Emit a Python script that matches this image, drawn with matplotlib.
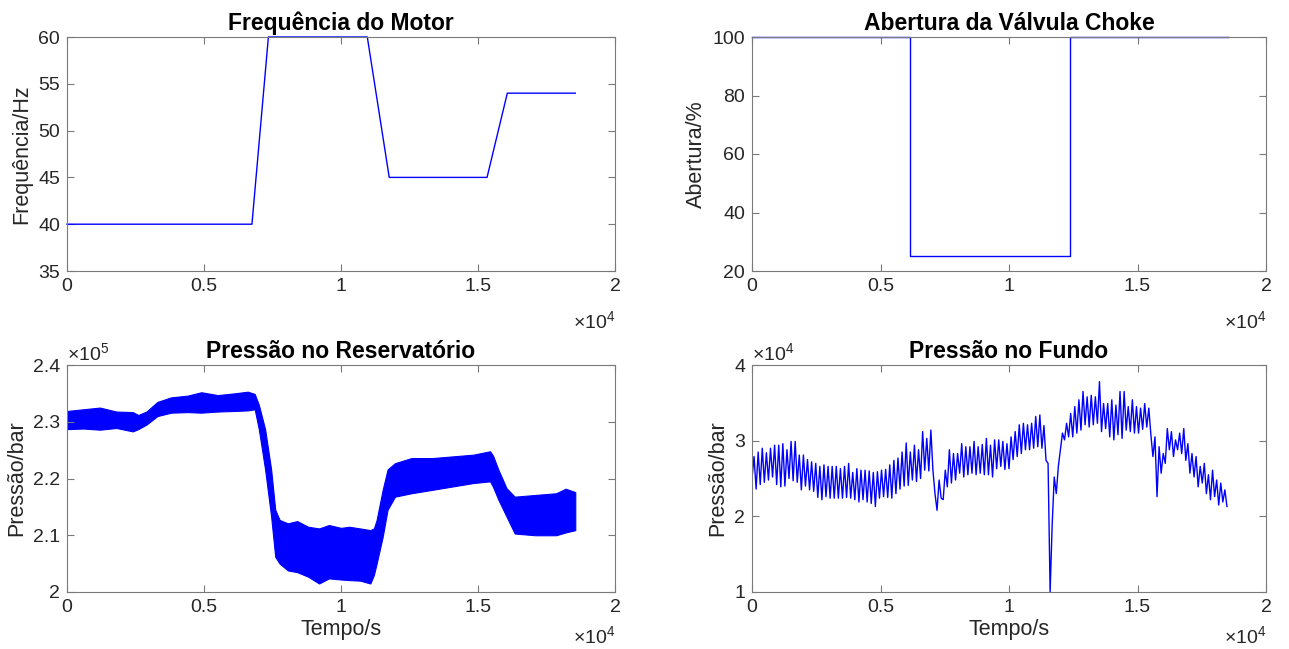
import numpy as np
import matplotlib
matplotlib.use('Agg')
import matplotlib.pyplot as plt
from matplotlib.ticker import FuncFormatter

plt.rcParams['font.family'] = ['Liberation Sans', 'DejaVu Sans']
plt.rcParams['mathtext.fontset'] = 'custom'
plt.rcParams['mathtext.rm'] = 'Liberation Sans'
plt.rcParams['mathtext.it'] = 'Liberation Sans:italic'

# motor frequency (Hz)
freq_t = [0, 6750, 7350, 10960, 11760, 15330, 16070, 18550]
freq_v = [40, 40, 60, 60, 45, 45, 54, 54]

# choke valve opening (%), step changes
choke_t = [0, 6160, 12370, 18510]
choke_v = [100, 25, 100, 100]

# reservoir pressure, noisy band read as lower / upper envelope (x1e5)
res_t = [0, 600, 1200, 1800, 2400, 2600, 2900, 3300, 3800, 4400,
         4900, 5500, 6100, 6600, 6850, 7000, 7230, 7450, 7600, 7760,
         8060, 8400, 8800, 9200, 9560, 10000, 10300, 10700, 11070, 11200,
         11300, 11520, 11700, 11970, 12570, 13330, 14080, 14830, 15440, 15550,
         15740, 16040, 16340, 17090, 17850, 18200, 18550]
res_hi = [2.319, 2.322, 2.325, 2.318, 2.317, 2.312, 2.318, 2.335, 2.343, 2.346,
          2.352, 2.347, 2.350, 2.353, 2.349, 2.330, 2.287, 2.216, 2.145, 2.127,
          2.121, 2.125, 2.115, 2.112, 2.118, 2.113, 2.115, 2.112, 2.109, 2.112,
          2.127, 2.180, 2.216, 2.227, 2.236, 2.236, 2.239, 2.242, 2.248, 2.240,
          2.216, 2.183, 2.168, 2.171, 2.174, 2.182, 2.176]
res_lo = [2.287, 2.288, 2.286, 2.289, 2.283, 2.287, 2.295, 2.310, 2.316, 2.317,
          2.316, 2.318, 2.319, 2.320, 2.322, 2.287, 2.216, 2.133, 2.062, 2.050,
          2.038, 2.035, 2.027, 2.015, 2.024, 2.022, 2.021, 2.020, 2.015, 2.030,
          2.050, 2.097, 2.145, 2.168, 2.174, 2.180, 2.186, 2.192, 2.195, 2.185,
          2.163, 2.133, 2.103, 2.100, 2.100, 2.105, 2.109]

# bottom-hole pressure (x1e4), one reading every 80 s
fundo_dt = 80
fundo_v = [
    2.50, 2.79, 2.36, 2.85, 2.42, 2.90, 2.45, 2.84, 2.48, 2.90,
    2.52, 2.94, 2.42, 2.94, 2.39, 2.96, 2.40, 2.88, 2.50, 2.99,
    2.47, 2.99, 2.45, 2.81, 2.35, 2.81, 2.40, 2.75, 2.35, 2.72,
    2.33, 2.70, 2.25, 2.66, 2.22, 2.68, 2.26, 2.66, 2.24, 2.66,
    2.24, 2.66, 2.24, 2.63, 2.24, 2.66, 2.25, 2.70, 2.24, 2.58,
    2.22, 2.63, 2.19, 2.61, 2.22, 2.61, 2.19, 2.60, 2.17, 2.58,
    2.13, 2.59, 2.24, 2.61, 2.26, 2.62, 2.25, 2.68, 2.24, 2.74,
    2.30, 2.77, 2.36, 2.85, 2.40, 2.97, 2.41, 2.85, 2.48, 2.94,
    2.46, 2.88, 2.50, 3.12, 2.61, 3.03, 2.60, 3.14, 2.61, 2.30,
    2.08, 2.48, 2.24, 2.22, 2.61, 2.39, 2.88, 2.44, 2.83, 2.48,
    2.83, 2.57, 2.96, 2.52, 2.92, 2.55, 2.92, 2.57, 2.99, 2.55,
    2.92, 2.57, 2.95, 2.55, 3.03, 2.55, 2.94, 2.52, 3.01, 2.63,
    3.01, 2.66, 2.99, 2.62, 2.96, 2.63, 3.05, 2.75, 3.12, 2.79,
    3.21, 2.83, 3.23, 2.88, 3.21, 2.88, 3.23, 2.90, 3.32, 2.92,
    3.34, 2.90, 3.20, 2.74, 2.70, 1.00, 1.89, 2.52, 2.30, 2.66,
    2.88, 3.10, 3.01, 3.23, 3.05, 3.36, 3.05, 3.45, 3.10, 3.54,
    3.14, 3.65, 3.21, 3.58, 3.18, 3.60, 3.21, 3.58, 3.23, 3.78,
    3.12, 3.49, 3.16, 3.49, 3.05, 3.54, 3.01, 3.47, 3.08, 3.65,
    3.03, 3.65, 3.14, 3.45, 3.12, 3.54, 3.10, 3.45, 3.10, 3.43,
    3.15, 3.49, 3.18, 3.43, 3.08, 2.79, 3.05, 2.26, 2.92, 2.57,
    2.83, 2.70, 3.16, 2.88, 3.12, 2.79, 3.01, 2.88, 3.10, 2.83,
    3.16, 2.74, 2.96, 2.57, 2.83, 2.52, 2.79, 2.39, 2.66, 2.44,
    2.70, 2.30, 2.55, 2.22, 2.61, 2.26, 2.48, 2.15, 2.44, 2.19,
    2.35, 2.13,
]
fundo_t = np.arange(len(fundo_v)) * fundo_dt

W, H = 1289, 649
TXT = '#262626'
SPINE = '#7a7a7a'
BLUE = '#0000ff'
TICK_FS = 14
LABEL_FS = 15.5

fig = plt.figure(figsize=(W / 100, H / 100), dpi=100)


def px_axes(l, t, r, b):
    return fig.add_axes([l / W, 1 - b / H, (r - l) / W, (b - t) / H])


def style(ax, title, ylabel, xlabel=None, xpow_offset=-28):
    for s in ax.spines.values():
        s.set_color(SPINE)
        s.set_linewidth(0.8)
    ax.tick_params(direction='in', top=True, right=True, length=5, width=0.8,
                   color=SPINE, labelcolor=TXT, labelsize=TICK_FS, pad=5)
    ax.set_xlim(0, 20000)
    ax.set_xticks([0, 5000, 10000, 15000, 20000])
    ax.xaxis.set_major_formatter(FuncFormatter(lambda v, p: f'{v / 1e4:g}'))
    ax.annotate(r'$\times\mathdefault{10^{4}}$', xy=(1, 0), xycoords='axes fraction',
                xytext=(0, xpow_offset), textcoords='offset points', ha='right', va='top',
                fontsize=TICK_FS, color=TXT)
    ax.set_title(title, fontsize=16.5, fontweight='bold', pad=5)
    ax.set_ylabel(ylabel, fontsize=LABEL_FS, color=TXT, labelpad=4)
    if xlabel:
        ax.set_xlabel(xlabel, fontsize=LABEL_FS, color=TXT, labelpad=2)


def y_power(ax, p):
    ax.yaxis.set_major_formatter(FuncFormatter(lambda v, pos: f'{v / 10 ** p:g}'))
    ax.annotate(r'$\times\mathdefault{10^{%d}}$' % p, xy=(0, 1), xycoords='axes fraction',
                xytext=(0, 1), textcoords='offset points', ha='left', va='bottom',
                fontsize=TICK_FS, color=TXT)


ax1 = px_axes(67, 37, 615, 271)
ax1.plot(freq_t, freq_v, color=BLUE, lw=1, clip_on=False)
ax1.set_ylim(35, 60)
ax1.set_yticks([35, 40, 45, 50, 55, 60])
style(ax1, 'Frequência do Motor', 'Frequência/Hz')

ax2 = px_axes(752, 37, 1266, 271)
ax2.step(choke_t, choke_v, where='post', color=BLUE, lw=1, clip_on=False)
ax2.set_ylim(20, 100)
ax2.set_yticks([20, 40, 60, 80, 100])
style(ax2, 'Abertura da Válvula Choke', 'Abertura/%')

ax3 = px_axes(67, 365, 615, 592)
ax3.fill_between(res_t, np.array(res_lo) * 1e5, np.array(res_hi) * 1e5,
                 color=BLUE, lw=0.8)
ax3.set_ylim(2.0e5, 2.4e5)
ax3.set_yticks([2.0e5, 2.1e5, 2.2e5, 2.3e5, 2.4e5])
y_power(ax3, 5)
style(ax3, 'Pressão no Reservatório', 'Pressão/bar', 'Tempo/s', xpow_offset=-24)

ax4 = px_axes(752, 365, 1266, 592)
ax4.plot(fundo_t, np.array(fundo_v) * 1e4, color=BLUE, lw=1)
ax4.set_ylim(1e4, 4e4)
ax4.set_yticks([1e4, 2e4, 3e4, 4e4])
y_power(ax4, 4)
style(ax4, 'Pressão no Fundo', 'Pressão/bar', 'Tempo/s', xpow_offset=-24)

fig.savefig('out.png', dpi=100, facecolor='white')
